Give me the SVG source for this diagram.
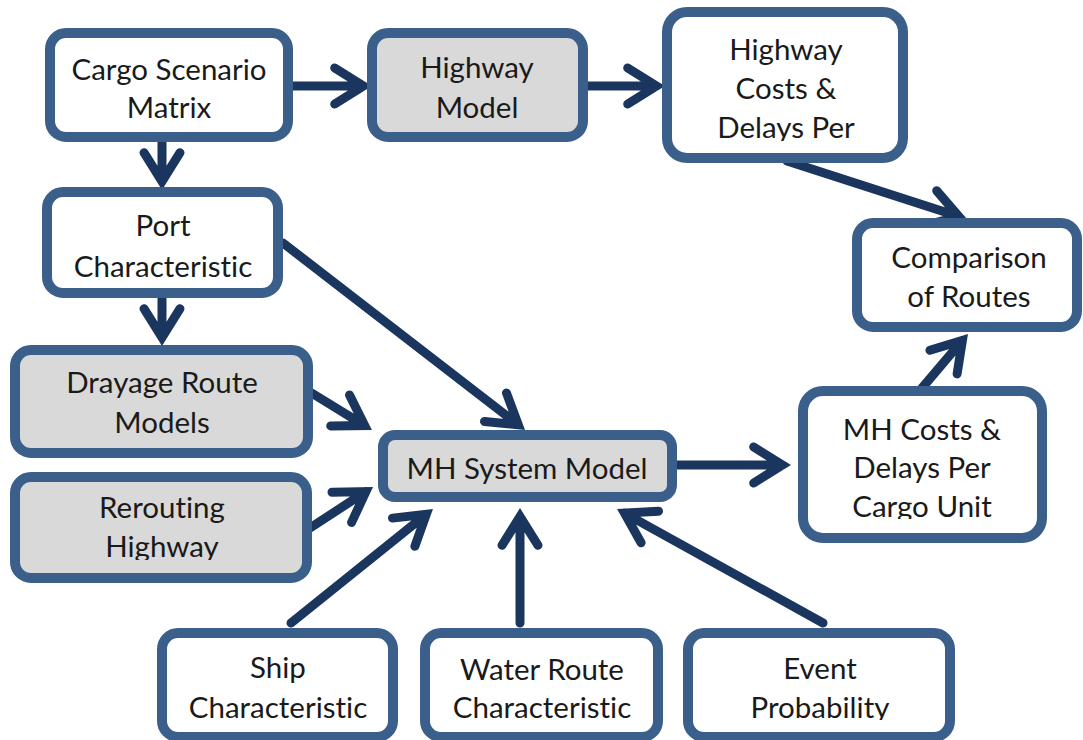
<svg xmlns="http://www.w3.org/2000/svg" width="1083" height="740" viewBox="0 0 1083 740">
  <style>
    .box { fill: #ffffff; stroke: #3a5f8b; stroke-width: 10; }
    .shaded { fill: #d9d9d9; }
    .lbl { font-family: Lato, "Open Sans", "Liberation Sans", sans-serif; font-size: 29.5px; fill: #1a1a1a; text-anchor: middle; font-variant-ligatures: none; }
    .arrow { fill: none; stroke: #1b365e; stroke-width: 9; stroke-linejoin: miter; stroke-miterlimit: 4; stroke-linecap: round; }
  </style>
  <defs>
    <clipPath id="clip-hwcosts"><rect x="672" y="17" width="226" height="124"/></clipPath>
    <clipPath id="clip-rerouting"><rect x="20" y="482" width="282" height="78"/></clipPath>
    <clipPath id="clip-mhcosts"><rect x="808" y="396" width="229" height="123"/></clipPath>
    <clipPath id="clip-ship"><rect x="167" y="638" width="221" height="82"/></clipPath>
    <clipPath id="clip-water"><rect x="430" y="638" width="223" height="82"/></clipPath>
    <clipPath id="clip-event"><rect x="693" y="638" width="252" height="82"/></clipPath>
  </defs>

  <!-- connectors -->
  <g id="connectors">
    <path class="arrow" d="M291 86 H363.5 M334.7 68 L363.5 86 L334.7 104"/>
    <path class="arrow" d="M586 86 H656.5 M627.7 68 L656.5 86 L627.7 104"/>
    <path class="arrow" d="M162 140 V181.5 M144 152.7 L162 181.5 L180 152.7"/>
    <path class="arrow" d="M162 296 V337.5 M144 308.7 L162 337.5 L180 308.7"/>
    <path class="arrow" d="M283 243 L518.3 424.8 M484.5 421.4 L518.3 424.8 L506.5 393"/>
    <path class="arrow" d="M310 392 L364.7 425.6 M330.7 425.9 L364.7 425.6 L349.5 395.1"/>
    <path class="arrow" d="M310 528 L365.9 491.6 M351.6 522.4 L365.9 491.6 L332 492.2"/>
    <path class="arrow" d="M291 623 L426.3 514.3 M414.9 546.3 L426.3 514.3 L392.5 518.1"/>
    <path class="arrow" d="M520 623 V516.5 M502 545.3 L520 516.5 L538 545.3"/>
    <path class="arrow" d="M823 623 L624.5 513.1 M658.5 511.2 L624.5 513.1 L641.1 542.8"/>
    <path class="arrow" d="M675 465 H782.5 M753.7 447 L782.5 465 L753.7 483"/>
    <path class="arrow" d="M922 388 L962.4 340.4 M957.1 373.9 L962.4 340.4 L929.9 350.3"/>
    <path class="arrow" d="M787 161 L958.9 216.5 M926.1 225.1 L958.9 216.5 L936.7 190.7"/>
  </g>

  <!-- nodes -->
  <g id="cargo-scenario-matrix">
    <rect class="box" x="50" y="33" width="238" height="104" rx="16"/>
    <text class="lbl" x="169" y="80">Cargo Scenario</text>
    <text class="lbl" x="169" y="118">Matrix</text>
  </g>

  <g id="highway-model">
    <rect class="box shaded" x="372" y="33" width="211" height="104" rx="16"/>
    <text class="lbl" x="477" y="78">Highway</text>
    <text class="lbl" x="477" y="118">Model</text>
  </g>

  <g id="highway-costs">
    <rect class="box" x="667" y="12" width="236" height="146" rx="20"/>
    <g clip-path="url(#clip-hwcosts)">
      <text class="lbl" x="786" y="60">Highway</text>
      <text class="lbl" x="786" y="99">Costs &amp;</text>
      <text class="lbl" x="786" y="138">Delays Per</text>
    </g>
  </g>

  <g id="comparison-of-routes">
    <rect class="box" x="857" y="223" width="220" height="104" rx="16"/>
    <text class="lbl" x="969" y="268">Comparison</text>
    <text class="lbl" x="969" y="307">of Routes</text>
  </g>

  <g id="port-characteristic">
    <rect class="box" x="47" y="192" width="231" height="101" rx="16"/>
    <text class="lbl" x="163" y="236">Port</text>
    <text class="lbl" x="163" y="277">Characteristic</text>
  </g>

  <g id="drayage-route-models">
    <rect class="box shaded" x="15" y="350" width="293" height="103" rx="16"/>
    <text class="lbl" x="162" y="393">Drayage Route</text>
    <text class="lbl" x="162" y="433">Models</text>
  </g>

  <g id="rerouting-highway">
    <rect class="box shaded" x="15" y="477" width="292" height="101" rx="16"/>
    <g clip-path="url(#clip-rerouting)">
      <text class="lbl" x="162" y="518">Rerouting</text>
      <text class="lbl" x="162" y="557">Highway</text>
    </g>
  </g>

  <g id="mh-system-model">
    <rect class="box shaded" x="383" y="435" width="289" height="62" rx="12"/>
    <text class="lbl" x="527" y="479">MH System Model</text>
  </g>

  <g id="mh-costs">
    <rect class="box" x="803" y="391" width="239" height="147" rx="20"/>
    <g clip-path="url(#clip-mhcosts)">
      <text class="lbl" x="922" y="440">MH Costs &amp;</text>
      <text class="lbl" x="922" y="478">Delays Per</text>
      <text class="lbl" x="922" y="517">Cargo Unit</text>
    </g>
  </g>

  <g id="ship-characteristic">
    <rect class="box" x="162" y="633" width="231" height="104" rx="16"/>
    <g clip-path="url(#clip-ship)">
      <text class="lbl" x="278" y="678">Ship</text>
      <text class="lbl" x="278" y="718">Characteristic</text>
    </g>
  </g>

  <g id="water-route-characteristic">
    <rect class="box" x="425" y="633" width="233" height="104" rx="16"/>
    <g clip-path="url(#clip-water)">
      <text class="lbl" x="542" y="680">Water Route</text>
      <text class="lbl" x="542" y="718">Characteristic</text>
    </g>
  </g>

  <g id="event-probability">
    <rect class="box" x="688" y="633" width="262" height="104" rx="16"/>
    <g clip-path="url(#clip-event)">
      <text class="lbl" x="820" y="679">Event</text>
      <text class="lbl" x="820" y="718">Probability</text>
    </g>
  </g>
</svg>
